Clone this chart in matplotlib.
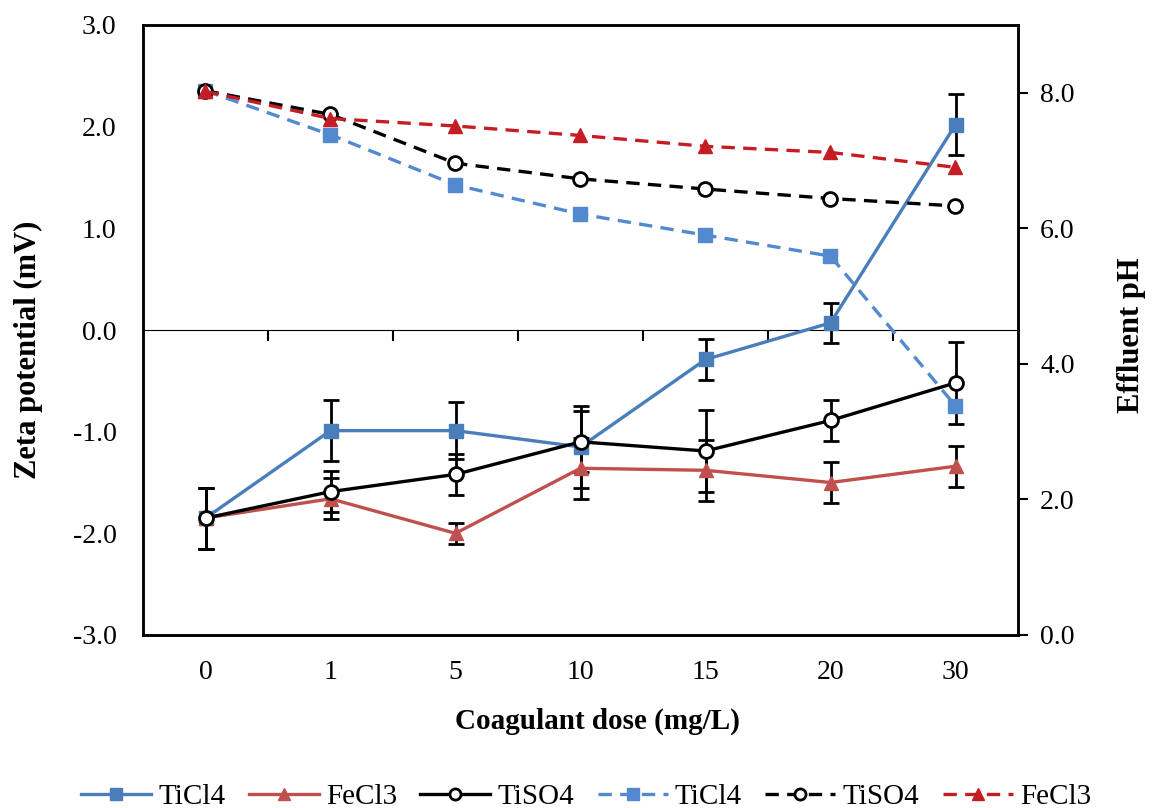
import numpy as np
import matplotlib
matplotlib.use("Agg")
import matplotlib.pyplot as plt
from matplotlib.ticker import FormatStrFormatter

plt.rcParams['font.family'] = ['Liberation Serif', 'DejaVu Serif']

# Dosis (kategorier)
doses = ["0", "1", "5", "10", "15", "20", "30"]

# Zeta-potential (mV), vänster axel
zeta_ticl4 = [-1.85, -0.99, -0.99, -1.15, -0.29, 0.07, 2.02]
zeta_ticl4_err = [0.3, 0.3, 0.28, 0.4, 0.2, 0.2, 0.3]
zeta_fecl3 = [-1.85, -1.66, -2.0, -1.36, -1.38, -1.50, -1.34]
zeta_fecl3_err = [0.3, 0.2, 0.1, 0.3, 0.3, 0.2, 0.2]
zeta_tiso4 = [-1.85, -1.59, -1.42, -1.10, -1.19, -0.89, -0.52]
zeta_tiso4_err = [0.3, 0.2, 0.2, 0.3, 0.4, 0.2, 0.4]

# Utgående pH, höger axel
ph_ticl4 = [8.03, 7.38, 6.64, 6.21, 5.90, 5.59, 3.38]
ph_tiso4 = [8.03, 7.68, 6.96, 6.73, 6.58, 6.44, 6.33]
ph_fecl3 = [8.02, 7.62, 7.51, 7.37, 7.21, 7.12, 6.90]

blue = '#4A7EBB'
blue_d = '#5289CF'
red = '#C0504D'
red_d = '#C41E24'

x = np.arange(len(doses))

fig = plt.figure(figsize=(11.54, 8.08), dpi=100)
ax = fig.add_axes([143/1154, 1-635/808, 875/1154, 610/808])
ax2 = ax.twinx()

lw = 2.4
ms = 10
eb = dict(fmt='none', ecolor='black', elinewidth=2, capsize=6, capthick=2, zorder=2)

ax.errorbar(x, zeta_ticl4, yerr=zeta_ticl4_err, **eb)
ax.errorbar(x, zeta_fecl3, yerr=zeta_fecl3_err, **eb)
ax.errorbar(x, zeta_tiso4, yerr=zeta_tiso4_err, **eb)

h1, = ax.plot(x, zeta_ticl4, '-s', color=blue, lw=lw, ms=ms, zorder=3, label='TiCl4')
h2, = ax.plot(x, zeta_fecl3, '-^', color=red, lw=lw, ms=ms, zorder=3, label='FeCl3')
h3, = ax.plot(x, zeta_tiso4, '-o', color='black', lw=lw, ms=ms, mfc='white',
              mec='black', mew=2, zorder=4, label='TiSO4')

h4, = ax2.plot(x, ph_ticl4, '--s', color=blue_d, lw=lw, ms=ms, dashes=(4, 2.5), label='TiCl4')
h5, = ax2.plot(x, ph_tiso4, '--o', color='black', lw=lw, ms=ms, mfc='white', mec='black',
               mew=2, dashes=(4, 2.5), label='TiSO4')
h6, = ax2.plot(x, ph_fecl3, '--^', color=red_d, lw=lw, ms=ms, dashes=(4, 2.5), label='FeCl3')

ax.set_xlim(-0.5, len(doses) - 0.5)
ax.set_ylim(-3, 3)
ax.set_yticks(np.arange(-3, 3.1, 1))
ax.yaxis.set_major_formatter(FormatStrFormatter('%.1f'))
ax.tick_params(axis='y', length=0, labelsize=20, pad=19)
ax.set_xticks(x)
ax.set_xticklabels(doses)
ax.tick_params(axis='x', length=0, labelsize=20, pad=18)

ax2.set_ylim(0, 9)
ax2.set_yticks([0, 2, 4, 6, 8])
ax2.yaxis.set_major_formatter(FormatStrFormatter('%.1f'))
ax2.tick_params(axis='y', length=7, width=1.5, labelsize=20, pad=9)

for a in (ax, ax2):
    for s in a.spines.values():
        s.set_linewidth(1.8)

# nollinje med tickmarkeringar mellan kategorierna
zero = ax.secondary_xaxis(0.5)
zero.set_xticks(x[:-1] + 0.5)
zero.set_xticklabels([])
zero.tick_params(direction='in', length=8, width=1.5)
zero.spines['bottom'].set_linewidth(1.5)

fig.text(28/1154, 1-350/808, 'Zeta potential (mV)', rotation=90, ha='center', va='center',
         fontsize=22, fontweight='bold')
fig.text(1131/1154, 1-335/808, 'Effluent pH', rotation=90, ha='center', va='center',
         fontsize=22, fontweight='bold')
fig.text(597/1154, 1-721/808, 'Coagulant dose (mg/L)', ha='center', va='center',
         fontsize=21, fontweight='bold')

fig.legend([h1, h2, h3, h4, h5, h6], ['TiCl4', 'FeCl3', 'TiSO4', 'TiCl4', 'TiSO4', 'FeCl3'],
           loc='center', bbox_to_anchor=(586/1154, 1-797/808), ncol=6, frameon=False,
           fontsize=21, handlelength=2.4, columnspacing=0.8, handletextpad=0.25, markerscale=0.8)

fig.savefig('out.png', dpi=100)
